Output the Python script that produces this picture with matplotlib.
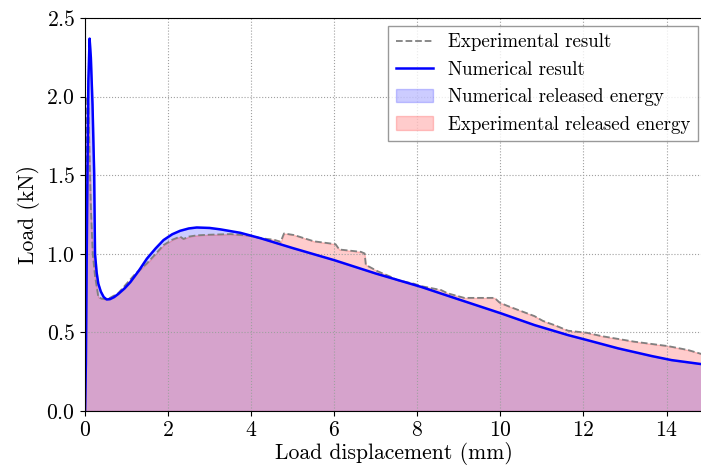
import matplotlib
matplotlib.use("Agg")
import matplotlib.pyplot as plt

# dane
num_x = [0.0, 0.02, 0.05, 0.08, 0.11, 0.14, 0.18, 0.22, 0.24, 0.28, 0.32, 0.38, 0.45, 0.52,
         0.6, 0.7, 0.8, 0.95, 1.09, 1.3, 1.49, 1.7, 1.89, 2.1, 2.29, 2.5, 2.69, 3.0, 3.26,
         3.74, 4.22, 5.0, 6.0, 7.0, 8.09, 9.0, 10.02, 10.82, 11.63, 12.08, 12.83, 13.64,
         14.12, 14.88]
num_y = [0.0, 0.3, 1.3, 2.1, 2.37, 2.25, 1.95, 1.51, 1.0, 0.88, 0.81, 0.76, 0.725, 0.71,
         0.712, 0.725, 0.745, 0.78, 0.82, 0.895, 0.97, 1.035, 1.088, 1.125, 1.147, 1.162,
         1.168, 1.165, 1.156, 1.134, 1.10, 1.037, 0.96, 0.875, 0.79, 0.71, 0.621, 0.547,
         0.483, 0.452, 0.399, 0.35, 0.324, 0.297]

exp_x = [0.0, 0.02, 0.05, 0.08, 0.10, 0.14, 0.185, 0.24, 0.32, 0.4, 0.48, 0.6, 0.8, 1.0,
         1.2, 1.49, 1.7, 1.89, 2.1, 2.29, 2.37, 2.5, 2.69, 3.0, 3.5, 4.0, 4.22, 4.55, 4.71,
         4.79, 5.03, 5.51, 6.03, 6.12, 6.64, 6.73, 6.76, 7.04, 7.36, 7.52, 7.92, 8.09, 8.57,
         8.73, 9.13, 9.86, 9.98, 10.18, 10.82, 11.02, 11.18, 11.3, 11.63, 12.08, 12.43,
         13.23, 14.04, 14.52, 14.88]
exp_y = [0.0, 1.2, 2.0, 1.95, 1.72, 1.3, 1.0, 0.86, 0.725, 0.715, 0.712, 0.72, 0.75, 0.81,
         0.87, 0.94, 1.0, 1.056, 1.09, 1.11, 1.095, 1.11, 1.118, 1.122, 1.126, 1.115, 1.10,
         1.09, 1.077, 1.13, 1.12, 1.08, 1.062, 1.028, 1.013, 1.003, 0.93, 0.89, 0.854, 0.833,
         0.81, 0.795, 0.77, 0.749, 0.72, 0.72, 0.69, 0.668, 0.604, 0.574, 0.558, 0.547,
         0.511, 0.498, 0.477, 0.441, 0.413, 0.388, 0.36]

plt.rcParams['font.family'] = 'serif'
plt.rcParams['font.serif'] = ['cmr10']
plt.rcParams['mathtext.fontset'] = 'cm'
plt.rcParams['axes.formatter.use_mathtext'] = True
plt.rcParams['font.size'] = 15.6

fig = plt.figure(figsize=(7.01, 4.66), dpi=100)
ax = fig.add_axes([0.1213, 0.118, 0.8817, 0.843])

ax.plot(exp_x, exp_y, '--', color='gray', linewidth=1.3, label='Experimental result')
ax.plot(num_x, num_y, color='blue', linewidth=1.8, label='Numerical result')
ax.fill_between(num_x, num_y, color='blue', alpha=0.2, label='Numerical released energy')
ax.fill_between(exp_x, exp_y, color='red', alpha=0.2, label='Experimental released energy')

ax.set_xlim(0, 14.88)
ax.set_ylim(0, 2.5)
ax.set_xticks([0, 2, 4, 6, 8, 10, 12, 14])
ax.set_yticks([0.0, 0.5, 1.0, 1.5, 2.0, 2.5])
ax.grid(True, linestyle=':', color='#a0a0a0', linewidth=0.8)
ax.set_xlabel('Load displacement (mm)', labelpad=1)
ax.set_ylabel('Load (kN)', labelpad=5)
ax.legend(loc='upper right', bbox_to_anchor=(0.9985, 0.99), borderaxespad=0.2,
          fancybox=False, edgecolor='gray', fontsize=13.6)

fig.savefig('out.png', dpi=100)
